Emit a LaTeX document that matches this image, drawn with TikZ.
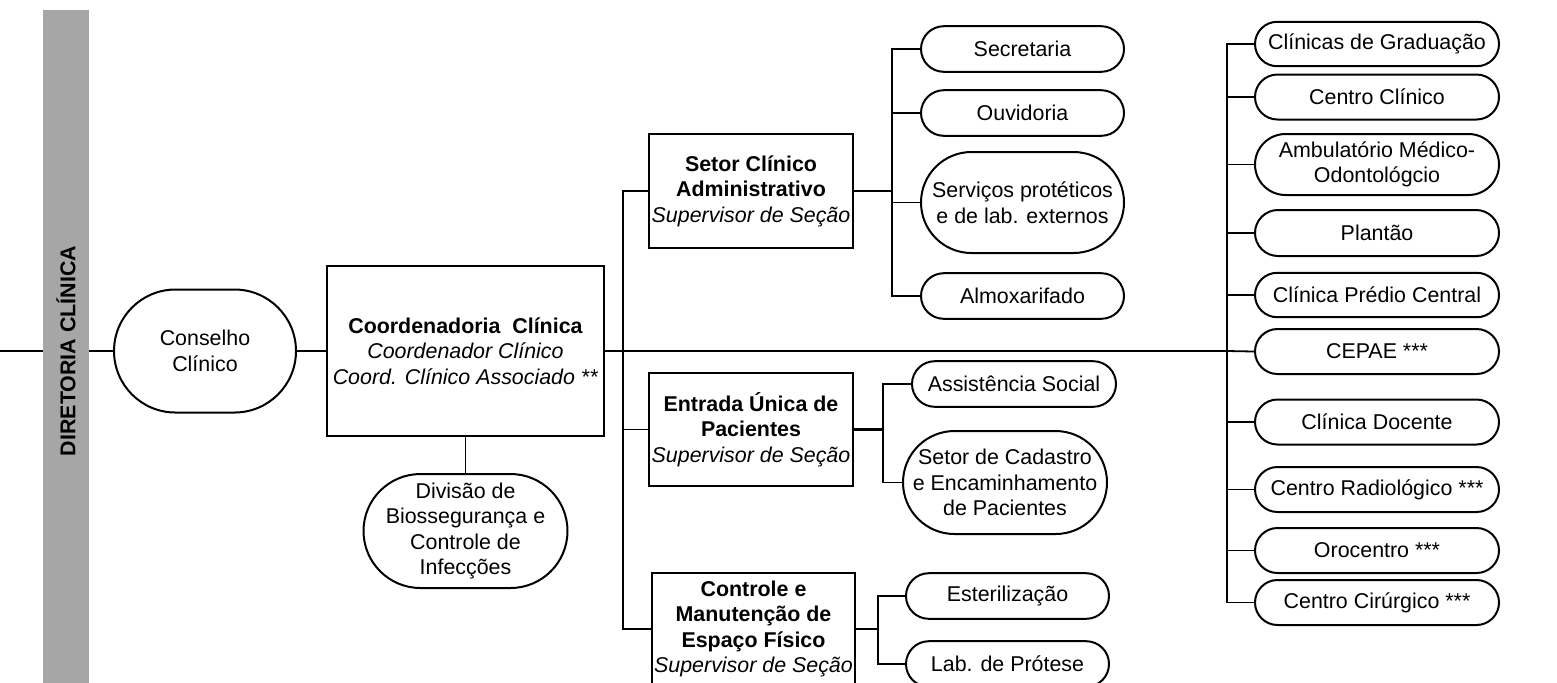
\documentclass[tikz,border=0pt]{standalone}
\usepackage{fontspec}
\setmainfont{Liberation Sans}
\usetikzlibrary{positioning}

\definecolor{bargray}{RGB}{166,166,166}

\begin{document}
\begin{tikzpicture}[x=0.5pt,y=-0.5pt,node distance=130pt,
	font=\fontsize{10.7}{12.8}\selectfont,
	box node/.style={rectangle,draw,line width=1pt,align=center,inner sep=0pt},
	round node/.style={rectangle,draw,line width=1pt,rounded corners=#1,
		minimum height=2*#1,align=center,inner sep=0pt},
	round node/.default=11.4pt,
	link/.style={line width=0.9pt},
	trunk/.style={line width=1.35pt}]

	\useasboundingbox (0,0) rectangle (1557,682);

	% diretoria
	\node[fill=bargray,minimum width=23pt,minimum height=341pt,inner sep=0pt] (bar) at (66,351) {};
	\node[rotate=90,font=\fontsize{10.7}{12.8}\selectfont\bfseries] (dir) at (bar.center) {DIRETORIA CLÍNICA};
	\coordinate (in) at (0,351);

	\node[round node=30.75pt,minimum width=91pt] (consel) at (205,351) {Conselho\\Clínico};
	\node[box node,minimum width=138.5pt,minimum height=85pt] (coord) [right of=consel,node distance=130.25pt]
		{\textbf{Coordenadoria\ \ Clínica}\\\textit{Coordenador Clínico}\\\textit{Coord. Clínico Associado **}};
	\node[round node=28.5pt,minimum width=102pt] (divisao) [below of=coord,node distance=90pt]
		{Divisão de\\Biossegurança e\\Controle de\\Infecções};

	% setores
	\node[box node,minimum width=102pt,minimum height=57pt] (setor) at (751,191)
		{\textbf{Setor Clínico}\\\textbf{Administrativo}\\\textit{Supervisor de Seção}};
	\node[box node,minimum width=102pt,minimum height=56.5pt] (entrada) at (751,429.5)
		{\textbf{Entrada Única de}\\\textbf{Pacientes}\\\textit{Supervisor de Seção}};
	\node[box node,minimum width=101.5pt,minimum height=56pt] (controle) at (753.5,629)
		{\textbf{Controle e}\\\textbf{Manutenção de}\\\textbf{Espaço Físico}\\\textit{Supervisor de Seção}};

	\node[round node,minimum width=101.5pt] (secretaria) at (1022.5,49) {Secretaria};
	\node[round node,minimum width=101.5pt] (ouvidoria) at (1022.5,113) {Ouvidoria};
	\node[round node=25.25pt,minimum width=101.5pt] (servicos) at (1022.5,202.5) {Serviços protéticos\\e de lab. externos};
	\node[round node,minimum width=101.5pt] (almox) at (1022.5,296) {Almoxarifado};

	\node[round node,minimum width=102pt] (assist) at (1014,384) {Assistência Social};
	\node[round node=25.75pt,minimum width=102pt] (cadastro) at (1005,482.5) {Setor de Cadastro\\e Encaminhamento\\de Pacientes};

	\node[round node,minimum width=101.5pt] (esteril) at (1007.5,596) {Esterilização};
	\node[round node,minimum width=101.5pt] (protese) at (1007.5,664) {Lab. de Prótese};

	% clinicas
	\node[round node=11.1pt,minimum width=122pt] (grad) at (1377,44) {Clínicas de Graduação};
	\node[round node=11.25pt,minimum width=122pt] (cclin) at (1377,97) {Centro Clínico};
	\node[round node=15.25pt,minimum width=122pt] (ambul) at (1377,164.5) {Ambulatório Médico-\\Odontológcio};
	\node[round node=11.5pt,minimum width=122pt] (plantao) at (1377,233) {Plantão};
	\node[round node=11.1pt,minimum width=122pt] (predio) at (1377,295) {Clínica Prédio Central};
	\node[round node=11.25pt,minimum width=122pt] (cepae) at (1377,351.5) {CEPAE ***};
	\node[round node=11.25pt,minimum width=122pt] (docente) at (1377,422) {Clínica Docente};
	\node[round node=11.25pt,minimum width=122pt] (radio) at (1377,489.5) {Centro Radiológico ***};
	\node[round node=11.25pt,minimum width=122pt] (oro) at (1377,550.5) {Orocentro ***};
	\node[round node=11.25pt,minimum width=122pt] (cirurg) at (1377,602.5) {Centro Cirúrgico ***};

	% ligacoes
	\draw[link] (in) -- (bar.west);
	\draw[link] (bar.east) -- (consel.west);
	\draw[link] (consel.east) -- (coord.west);
	\draw[link] (coord.south) -- (divisao.north);

	\coordinate (mbus) at (623,351);
	\coordinate (rbus) at (1227,351);
	\draw[trunk] (coord.east) -- (rbus);
	\draw[link] (rbus) -- (cepae.west);
	\draw[link] (mbus) |- (setor.west) (mbus) |- (entrada.west) (mbus) |- (controle.west);

	\coordinate (sbus) at (892,191);
	\draw[trunk] (setor.east) -- (sbus);
	\draw[link] (sbus) |- (secretaria.west) (sbus) |- (ouvidoria.west)
		(sbus) |- (servicos.west) (sbus) |- (almox.west);

	\coordinate (ebus) at (883,429.5);
	\draw[trunk] (entrada.east) -- (ebus);
	\draw[link] (ebus) |- (assist.west) (ebus) |- (cadastro.west);

	\coordinate (cbus) at (878,629);
	\draw[trunk] (controle.east) -- (cbus);
	\draw[link] (cbus) |- (esteril.west) (cbus) |- (protese.west);

	\draw[trunk] (rbus |- grad.west) -- (rbus |- cirurg.west);
	\draw[link] (rbus) |- (grad.west) (rbus) |- (cclin.west) (rbus) |- (ambul.west)
		(rbus) |- (plantao.west) (rbus) |- (predio.west) (rbus) |- (docente.west)
		(rbus) |- (radio.west) (rbus) |- (oro.west) (rbus) |- (cirurg.west);
\end{tikzpicture}
\end{document}
